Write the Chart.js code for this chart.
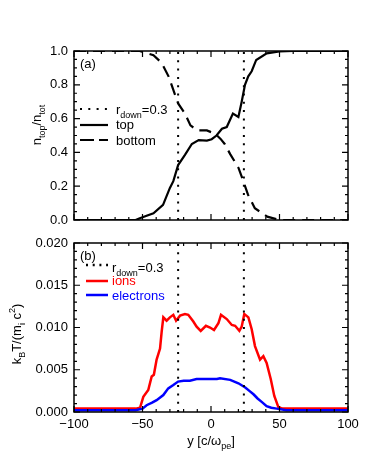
<!DOCTYPE html>
<html>
<head>
<meta charset="utf-8">
<script src="https://cdn.jsdelivr.net/npm/chart.js@4.4.0/dist/chart.umd.min.js"></script>
<style>
    body { margin: 0; background: #fff; }
    #wrap { position: relative; width: 374px; height: 463px; }
    canvas { position: absolute; left: 0; }
</style>
</head>
<body>
<div id="wrap">
    <canvas id="densChart" width="374" height="236" style="top:0"></canvas>
    <canvas id="tempChart" width="374" height="235" style="top:228px"></canvas>
</div>
<script>
// panel (a): density fractions
const topX = [-100, -55, -52, -42, -35, -30, -27.5, -24, -19, -14, -9, -3, 0.5, 4, 8, 11.5, 16, 20, 22.4, 24.8, 27.2, 29.7, 33, 40.7, 50, 60, 100];
const topY = [0, 0, 0.01, 0.04, 0.09, 0.19, 0.23, 0.325, 0.385, 0.45, 0.473, 0.47, 0.478, 0.50, 0.54, 0.55, 0.63, 0.61, 0.70, 0.80, 0.85, 0.88, 0.947, 0.986, 0.997, 1, 1];
const botX = [-100, -60, -52, -42, -36, -31, -27.5, -24, -19, -15, -10, -3, 3, 7, 10, 14, 20, 23.6, 27, 32, 41, 50, 100];
const botY = [1, 1, 1.0, 0.975, 0.93, 0.85, 0.77, 0.69, 0.63, 0.56, 0.53, 0.53, 0.51, 0.48, 0.45, 0.39, 0.31, 0.23, 0.15, 0.07, 0.02, 0, 0];

// panel (b): temperatures
const ionX = [-100, -55, -51.8, -49.4, -45.8, -43.3, -41.7, -39.7, -37.2, -36, -34.8, -32.4, -30, -27.5, -25.5, -22.6, -19, -16.6, -12.9, -10.5, -7.5, -3.7, -0.7, 2.2, 5.4, 7.3, 11.5, 15.2, 17.6, 20.7, 22.4, 24.3, 27.3, 29.7, 32.1, 35.8, 38.2, 40.6, 43.6, 46.2, 49.1, 52, 100];
const ionY = [0.0004, 0.0004, 0.0005, 0.0018, 0.0026, 0.0042, 0.0044, 0.0062, 0.0075, 0.0095, 0.0112, 0.0108, 0.0112, 0.0115, 0.0108, 0.0114, 0.0116, 0.0115, 0.0107, 0.0101, 0.0096, 0.0102, 0.0100, 0.0097, 0.0105, 0.0115, 0.0110, 0.0103, 0.0102, 0.0096, 0.0101, 0.0116, 0.0112, 0.0098, 0.0078, 0.0062, 0.0066, 0.0058, 0.0039, 0.0019, 0.0006, 0.0004, 0.0004];
const elecX = [-100, -55, -50, -47, -43, -39.7, -34.8, -31.2, -27.5, -24, -20, -15.4, -10.5, -3, 4.3, 6.6, 14, 20, 25, 28, 31, 34, 37, 40.6, 44, 48, 55, 100];
const elecY = [0.0002, 0.0002, 0.0004, 0.0008, 0.0011, 0.0014, 0.0020, 0.0028, 0.0032, 0.0036, 0.0037, 0.0037, 0.0039, 0.0039, 0.0039, 0.0040, 0.0038, 0.0034, 0.0029, 0.0025, 0.0021, 0.0016, 0.0012, 0.0007, 0.0005, 0.0004, 0.0002, 0.0002];

// r_down = 0.3 boundaries
const rDownX = [-24, 24];
const xTicks = [-100, -50, 0, 50, 100];

const FONT = "'Liberation Sans', Arial, Helvetica, sans-serif";

function pts(xs, ys) {
    return xs.map((x, i) => ({ x: x, y: ys[i] }));
}

function vLines(ymax) {
    return rDownX.map(x => ({
        data: [{ x: x, y: 0 }, { x: x, y: ymax }],
        borderColor: '#000',
        borderWidth: 2,
        borderDash: [2, 6.3],
        pointRadius: 0
    }));
}

// text with subscripts / superscripts: parts = [[text, 'n'|'sub'|'sup'], ...]
function richWidth(ctx, parts, size) {
    let w = 0;
    parts.forEach(p => {
        ctx.font = (p[1] === 'n' ? size : Math.round(size * 0.7)) + 'px ' + FONT;
        w += ctx.measureText(p[0]).width;
    });
    return w;
}

function drawRich(ctx, parts, x, y, size, color) {
    ctx.fillStyle = color || '#000';
    ctx.textBaseline = 'alphabetic';
    ctx.textAlign = 'left';
    let cx = x;
    parts.forEach(p => {
        let dy = 0;
        if (p[1] === 'n') {
            ctx.font = size + 'px ' + FONT;
        } else {
            ctx.font = Math.round(size * 0.7) + 'px ' + FONT;
            dy = p[1] === 'sub' ? size * 0.3 : -size * 0.45;
        }
        ctx.fillText(p[0], cx, y + dy);
        cx += ctx.measureText(p[0]).width;
    });
}

const framePlugin = {
    id: 'frame',
    afterDatasetsDraw(chart, args, opts) {
        const ctx = chart.ctx;
        const a = chart.chartArea;
        const xs = chart.scales.x, ys = chart.scales.y;
        ctx.save();
        ctx.setLineDash([]);
        ctx.strokeStyle = '#000';
        ctx.lineWidth = 1.5;
        ctx.strokeRect(a.left, a.top, a.right - a.left, a.bottom - a.top);

        // inward ticks on all four sides
        ctx.lineWidth = 1.2;
        ctx.beginPath();
        for (let v = -100; v <= 100; v += 10) {
            const px = xs.getPixelForValue(v);
            const len = v % 50 === 0 ? 6 : 3;
            ctx.moveTo(px, a.bottom); ctx.lineTo(px, a.bottom - len);
            ctx.moveTo(px, a.top); ctx.lineTo(px, a.top + len);
        }
        const n = Math.round((ys.max - ys.min) / opts.minor);
        for (let i = 0; i <= n; i++) {
            const py = ys.getPixelForValue(ys.min + i * opts.minor);
            const len = i % opts.per === 0 ? 6 : 3;
            ctx.moveTo(a.left, py); ctx.lineTo(a.left + len, py);
            ctx.moveTo(a.right, py); ctx.lineTo(a.right - len, py);
        }
        ctx.stroke();

        // panel label
        drawRich(ctx, [[opts.tag, 'n']], a.left + 6, a.top + 17, 13);

        // legend
        opts.legend.forEach(item => {
            ctx.beginPath();
            ctx.strokeStyle = item.color;
            ctx.lineWidth = item.width;
            ctx.setLineDash(item.dash);
            ctx.moveTo(item.x0, item.ly);
            ctx.lineTo(item.x1, item.ly);
            ctx.stroke();
            ctx.setLineDash([]);
            drawRich(ctx, item.parts, item.tx, item.ty, 13, item.color);
        });

        // y title (rotated)
        const t = opts.yTitle;
        const w = richWidth(ctx, t.parts, 13);
        ctx.save();
        ctx.translate(t.x, t.y);
        ctx.rotate(-Math.PI / 2);
        drawRich(ctx, t.parts, -w / 2, 0, 13);
        ctx.restore();

        // x title
        if (opts.xTitle) {
            const xt = opts.xTitle;
            const xw = richWidth(ctx, xt.parts, 13);
            drawRich(ctx, xt.parts, (a.left + a.right) / 2 - xw / 2, xt.y, 13);
        }
        ctx.restore();
    }
};

function baseOptions(ymax, step, digits, xHeight, pad) {
    return {
        responsive: false,
        animation: false,
        layout: { padding: pad },
        plugins: { legend: { display: false }, tooltip: { enabled: false } },
        scales: {
            x: {
                type: 'linear',
                min: -100,
                max: 100,
                afterFit: s => { s.height = xHeight; },
                afterBuildTicks: s => { s.ticks = xTicks.map(v => ({ value: v })); },
                grid: { display: false, drawTicks: false },
                border: { display: false },
                ticks: {
                    display: xHeight > 20,
                    padding: 5,
                    maxRotation: 0,
                    color: '#000',
                    font: { family: FONT, size: 13 },
                    callback: v => (v < 0 ? '\u2212' + Math.abs(v) : String(v))
                }
            },
            y: {
                min: 0,
                max: ymax,
                afterFit: s => { s.width = 74; },
                grid: { display: false, drawTicks: false },
                border: { display: false },
                ticks: {
                    stepSize: step,
                    padding: 6,
                    color: '#000',
                    font: { family: FONT, size: 13 },
                    callback: v => Number(v).toFixed(digits)
                }
            }
        }
    };
}

document.addEventListener('DOMContentLoaded', function () {
    // top panel: canvas 0..236, plot area 51..220
    const optA = baseOptions(1, 0.2, 1, 16, { top: 51, right: 26, left: 0, bottom: 0 });
    optA.plugins.frame = {
        minor: 0.05, per: 4, tag: '(a)',
        yTitle: { parts: [['n', 'n'], ['top', 'sub'], ['/n', 'n'], ['tot', 'sub']], x: 41, y: 125 },
        legend: [
            { parts: [['r', 'n'], ['down', 'sub'], ['=0.3', 'n']], color: '#000', width: 2, dash: [2, 6.3], x0: 80, x1: 108, ly: 109, tx: 116, ty: 114 },
            { parts: [['top', 'n']], color: '#000', width: 2.2, dash: [], x0: 80, x1: 108, ly: 125, tx: 116, ty: 129 },
            { parts: [['bottom', 'n']], color: '#000', width: 2.2, dash: [14, 5], x0: 80, x1: 108, ly: 140, tx: 116, ty: 145 }
        ]
    };
    new Chart(document.getElementById('densChart'), {
        type: 'line',
        data: {
            datasets: vLines(1).concat([
                { data: pts(botX, botY), borderColor: '#000', borderWidth: 2.2, borderDash: [12, 7], pointRadius: 0, tension: 0 },
                { data: pts(topX, topY), borderColor: '#000', borderWidth: 2.2, pointRadius: 0, tension: 0 }
            ])
        },
        options: optA,
        plugins: [framePlugin]
    });

    // bottom panel: canvas 228..463, plot area 243..412
    const optB = baseOptions(0.02, 0.005, 3, 51, { top: 15, right: 26, left: 0, bottom: 0 });
    optB.plugins.frame = {
        minor: 0.001, per: 5, tag: '(b)',
        yTitle: { parts: [['k', 'n'], ['B', 'sub'], ['T/(m', 'n'], ['i', 'sub'], [' c', 'n'], ['2', 'sup'], [')', 'n']], x: 21, y: 106 },
        xTitle: { parts: [['y [c/\u03c9', 'n'], ['pe', 'sub'], [']', 'n']], y: 217 },
        legend: [
            { parts: [['r', 'n'], ['down', 'sub'], ['=0.3', 'n']], color: '#000', width: 2.5, dash: [2, 4.7], x0: 86, x1: 108, ly: 37, tx: 112, ty: 44 },
            { parts: [['ions', 'n']], color: '#ff0000', width: 2.5, dash: [], x0: 86, x1: 108, ly: 53, tx: 112, ty: 57 },
            { parts: [['electrons', 'n']], color: '#0000ff', width: 2.5, dash: [], x0: 86, x1: 108, ly: 67, tx: 112, ty: 72 }
        ]
    };
    new Chart(document.getElementById('tempChart'), {
        type: 'line',
        data: {
            datasets: vLines(0.02).concat([
                { data: pts(elecX, elecY), borderColor: '#0000ff', borderWidth: 2.5, pointRadius: 0, tension: 0 },
                { data: pts(ionX, ionY), borderColor: '#ff0000', borderWidth: 2.5, pointRadius: 0, tension: 0 }
            ])
        },
        options: optB,
        plugins: [framePlugin]
    });
});
</script>
</body>
</html>
